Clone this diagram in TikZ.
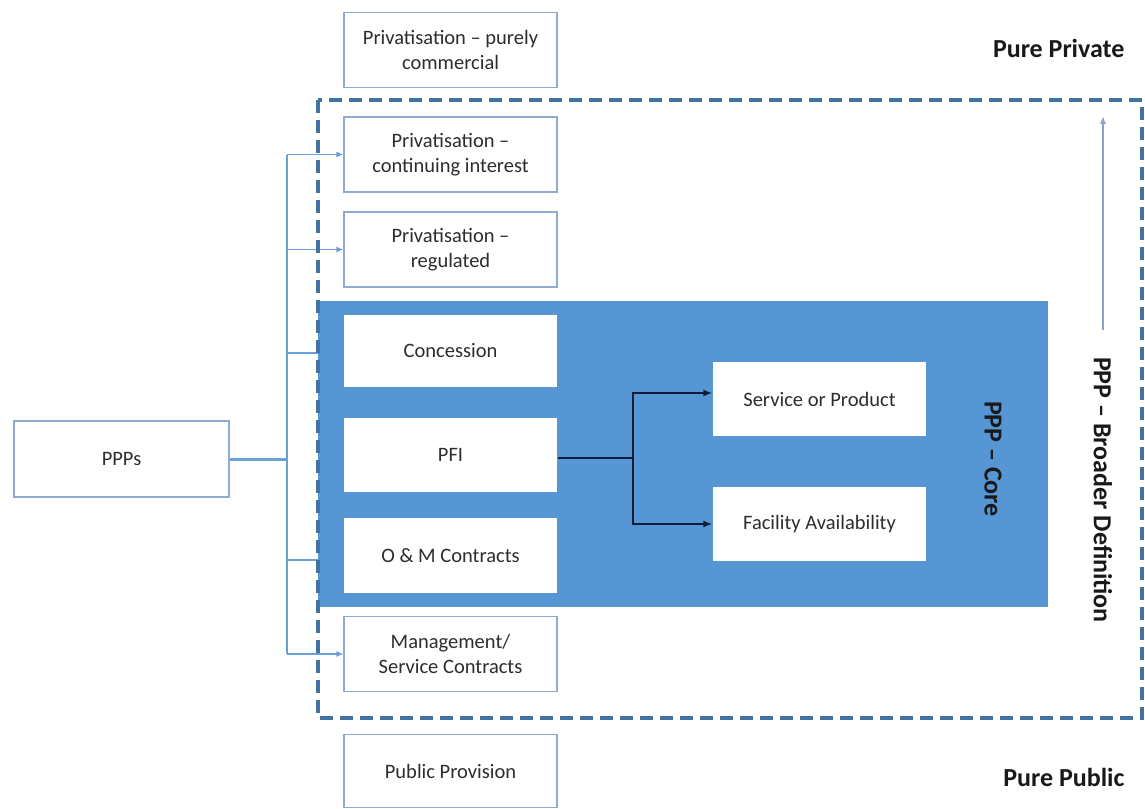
\documentclass[tikz,border=0pt]{standalone}
\usepackage{fontspec}
\setmainfont{Carlito}
\usetikzlibrary{arrows.meta}
\definecolor{boxline}{RGB}{143,170,212}
\definecolor{corefill}{RGB}{86,150,212}
\definecolor{dashc}{RGB}{66,114,160}
\definecolor{conn}{RGB}{105,160,215}
\definecolor{txt}{RGB}{45,45,45}
\definecolor{darr}{RGB}{18,28,52}
\definecolor{uparr}{RGB}{140,162,200}
\begin{document}
\begin{tikzpicture}[x=1pt,y=-1pt,
  box/.style={draw=boxline, line width=1.2pt, fill=white, minimum width=213pt,
    minimum height=75pt, align=center, font=\fontsize{20.5}{25}\selectfont,
    text=txt, inner sep=0pt},
  corebox/.style={box, draw=none},
  bconn/.style={draw=conn, line width=1.5pt},
  bconnarr/.style={bconn, -{Latex[length=7pt,width=6pt]}},
  darkarr/.style={draw=darr, line width=2pt, -{Latex[length=9pt,width=7pt]}},
  biglabel/.style={font=\bfseries\fontsize{26}{29}\selectfont, text=black!90},
  outerdash/.style={draw=dashc, line width=3.5pt, dash pattern=on 13pt off 7pt}
]
\useasboundingbox (0,0) rectangle (1145,808);
\fill[white] (0,0) rectangle (1145,808);

% boxes outside core (positions)
\node[box] (purely) at (450.5,50) {Privatisation – purely\\commercial};
\node[box] (cont) at (450.5,154.5) {Privatisation –\\continuing interest};
\node[box] (reg) at (450.5,249.5) {Privatisation –\\regulated};
\node[box] (mgmt) at (450.5,654) {Management/\\Service Contracts};
\node[box, minimum height=73pt] (pub) at (450.5,771) {Public Provision};
\node[box, minimum width=215pt, minimum height=76pt] (ppp) at (121.5,459) {PPPs};

% connectors from PPPs
\coordinate (j) at (287,459);
\draw[draw=conn, line width=3pt] (ppp.east) -- (j);
\draw[bconn] (j |- cont.west) -- (j |- mgmt.west);
\draw[bconnarr] (j |- cont.west) -- (cont.west);
\draw[bconnarr] (j |- reg.west) -- (reg.west);
\draw[bconnarr] (j |- mgmt.west) -- (mgmt.west);
\coordinate (cc) at (345,353);
\coordinate (oc) at (345,560);
\draw[bconnarr] (j |- cc) -- (cc);
\draw[bconnarr] (j |- oc) -- (oc);

% core rectangle
\fill[corefill] (318,301) rectangle (1048,607);

% outer dashed rectangle
\draw[outerdash] (318,100) rectangle (1142,718);

% core boxes
\node[corebox, minimum height=72pt] (conc) at (450.5,351) {Concession};
\node[corebox, minimum height=74pt] (pfi) at (450.5,455) {PFI};
\node[corebox, minimum height=75pt] (om) at (450.5,555.5) {O \& M Contracts};
\node[corebox, minimum height=74pt] (serv) at (819.5,399) {Service or Product};
\node[corebox, minimum height=74pt] (fac) at (819.5,524) {Facility Availability};

% PFI arrows
\coordinate (k) at (633,458);
\draw[draw=darr, line width=2pt] ([yshift=-3pt]pfi.east) -- (k);
\draw[darkarr] (k) |- ([yshift=6pt]serv.west);
\draw[darkarr] (k) |- (fac.west);

% labels
\node[biglabel, rotate=-90] (core) at (993,459) {PPP – Core};
\node[biglabel, rotate=-90] (broad) at (1103,490) {PPP – Broader Definition};
\node[biglabel, anchor=east] (pp) at (1128,48) {Pure Private};
\node[biglabel, anchor=east] (pu) at (1128,777) {Pure Public};

% up arrow
\coordinate (upS) at (1103,330);
\coordinate (upE) at (1103,116);
\draw[draw=uparr, line width=1.5pt, -{Latex[length=8pt,width=6pt]}] (upS) -- (upE);
\end{tikzpicture}
\end{document}
